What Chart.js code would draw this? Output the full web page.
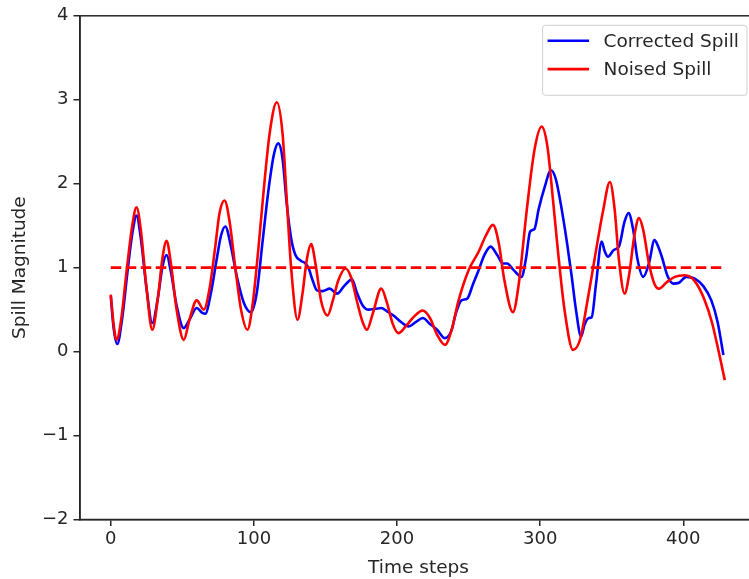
<!DOCTYPE html>
<html lang="en">
<head>
  <meta charset="UTF-8">
  <title>Spill Magnitude</title>
  <script src="https://cdn.jsdelivr.net/npm/chart.js"></script>
  <style>
    body {
      margin: 0;
      padding: 0;
      background: #fff;
      overflow: hidden;
    }
    #chart {
      display: block;
    }
  </style>
</head>
<body>
<canvas id="chart" width="770" height="579"></canvas>

<script>
  // values
  const noisedSteps = [0, 2, 4, 7, 11, 15, 18, 21, 25, 29, 33, 36, 39, 42, 46, 51, 55, 60, 65, 69, 73, 76, 79.5, 83, 87, 91, 95.5,
    99, 103, 107, 111, 116, 120, 123, 126, 130.5, 134, 137, 140, 143, 147, 151.5, 155, 159, 164, 168, 172, 176, 179, 183, 189,
    193, 197, 201, 206, 212, 218, 223, 228, 233.5, 238, 243, 250, 257, 262, 267, 271, 275, 281, 285, 290.6, 296, 301, 305, 309,
    312.6, 317, 323, 328, 333, 338, 344, 348.7, 352, 355, 359, 362, 366, 369, 372, 376, 380, 383, 388, 394, 401, 408, 415, 420,
    425, 429];
  const noisedValues = [0.68, 0.32, 0.14, 0.35, 0.95, 1.5, 1.72, 1.45, 0.75, 0.26, 0.65, 1.1, 1.32, 1.05, 0.5, 0.14, 0.38, 0.61,
    0.50, 0.75, 1.25, 1.65, 1.80, 1.55, 1.0, 0.5, 0.26, 0.55, 1.2, 1.95, 2.6, 2.97, 2.6, 1.8, 1.0, 0.38, 0.7, 1.1, 1.28, 1.05,
    0.6, 0.43, 0.6, 0.85, 0.99, 0.88, 0.6, 0.35, 0.26, 0.45, 0.75, 0.58, 0.33, 0.22, 0.3, 0.42, 0.49, 0.4, 0.2, 0.08, 0.25, 0.61,
    0.97, 1.19, 1.38, 1.51, 1.3, 0.85, 0.47, 0.8, 1.68, 2.4, 2.68, 2.45, 1.8, 1.17, 0.5, 0.02, 0.15, 0.6, 1.1, 1.68, 2.02, 1.7,
    1.1, 0.69, 0.9, 1.4, 1.59, 1.45, 1.05, 0.8, 0.75, 0.82, 0.89, 0.91, 0.84, 0.61, 0.35, -0.02, -0.34];

  const correctedSteps = [0, 2, 4.5, 8, 12, 15, 18, 21, 25, 29, 33, 36, 39, 42, 46, 51, 55, 60, 64, 66, 70, 74, 77, 80, 84, 88,
    93, 98, 102, 106, 110, 114, 117, 120, 123, 126, 129, 133, 136, 138.5, 141, 144, 148, 153, 158, 163, 168.5, 172, 176, 180,
    185, 189, 193, 197.5, 203, 208, 213, 218, 223, 228, 233.5, 238, 241, 245, 249, 253, 257, 261, 265.4, 270, 274, 277, 281,
    287, 290, 293, 296, 299, 303, 307.6, 311, 315, 318.8, 322, 325, 328.6, 331, 334, 336, 339, 343, 345, 347.4, 351.4, 355,
    359, 361.8, 365, 368, 372, 376, 379.9, 382, 385, 389, 393, 397, 402, 408, 414, 419.6, 424, 428];
  const correctedValues = [0.66, 0.28, 0.09, 0.4, 1.0, 1.4, 1.62, 1.35, 0.75, 0.34, 0.65, 1.0, 1.15, 0.95, 0.55, 0.28, 0.38,
    0.52, 0.46, 0.45, 0.7, 1.1, 1.38, 1.49, 1.25, 0.9, 0.58, 0.47, 0.7, 1.3, 1.9, 2.35, 2.48, 2.3, 1.75, 1.35, 1.15, 1.08, 1.05,
    0.98, 0.85, 0.73, 0.72, 0.75, 0.69, 0.78, 0.86, 0.7, 0.55, 0.5, 0.51, 0.52, 0.48, 0.43, 0.35, 0.3, 0.35, 0.4, 0.33, 0.26,
    0.16, 0.25, 0.45, 0.61, 0.63, 0.8, 0.97, 1.15, 1.25, 1.15, 1.05, 1.05, 0.98, 0.89, 1.1, 1.43, 1.46, 1.7, 1.95, 2.16, 2.05,
    1.7, 1.29, 0.9, 0.5, 0.18, 0.32, 0.4, 0.41, 0.8, 1.31, 1.2, 1.13, 1.21, 1.25, 1.55, 1.65, 1.45, 1.1, 0.89, 1.05, 1.33,
    1.27, 1.13, 0.9, 0.81, 0.82, 0.89, 0.87, 0.78, 0.61, 0.35, -0.04];

  const thresholdSteps = [0, 429];
  const thresholdValues = [1, 1];

  const xTicks = [0, 100, 200, 300, 400];
  const yTicks = [-2, -1, 0, 1, 2, 3, 4];

  const toPoints = (xs, ys) => xs.map((x, i) => ({ x: x, y: ys[i] }));

  const fontFamily = '"DejaVu Sans", sans-serif';
  const inkColor = '#262626';

  // matplotlib style frame: spines on all four sides
  const framePlugin = {
    id: 'frame',
    afterDraw(chart) {
      const { ctx, chartArea } = chart;
      ctx.save();
      ctx.strokeStyle = inkColor;
      ctx.lineWidth = 1.5;
      ctx.strokeRect(chartArea.left, chartArea.top, chartArea.right - chartArea.left, chartArea.bottom - chartArea.top);
      ctx.restore();
    }
  };

  // legend inside the axes, upper right
  const insideLegend = {
    id: 'insideLegend',
    afterDraw(chart) {
      const { ctx, chartArea } = chart;
      const items = chart.data.datasets.filter(d => !d.noLegend);
      ctx.save();
      ctx.font = '18.5px ' + fontFamily;
      const maxW = Math.max(...items.map(d => ctx.measureText(d.label).width));
      const right = chartArea.right - 10;
      const top = chartArea.top + 9.5;
      const left = right - (61 + maxW + 8);
      const h = 70;

      ctx.beginPath();
      ctx.roundRect(left, top, right - left, h, 3);
      ctx.fillStyle = 'rgba(255,255,255,0.8)';
      ctx.fill();
      ctx.strokeStyle = '#d0d0d0';
      ctx.lineWidth = 1;
      ctx.stroke();

      items.forEach((d, i) => {
        const cy = top + 15.5 + i * 28.3;
        ctx.beginPath();
        ctx.moveTo(left + 5, cy);
        ctx.lineTo(left + 46.5, cy);
        ctx.strokeStyle = d.borderColor;
        ctx.lineWidth = 2.6;
        ctx.stroke();
        ctx.fillStyle = inkColor;
        ctx.textBaseline = 'middle';
        ctx.fillText(d.label, left + 61, cy + 1);
      });
      ctx.restore();
    }
  };

  const ctx = document.getElementById('chart').getContext('2d');
  const chart = new Chart(ctx, {
    type: 'line',
    data: {
      datasets: [
        {
          label: 'Corrected Spill',
          data: toPoints(correctedSteps, correctedValues),
          borderColor: '#0000ff',
          borderWidth: 2.6,
          pointRadius: 0,
          cubicInterpolationMode: 'monotone',
          fill: false,
          order: 3,
        },
        {
          label: 'Noised Spill',
          data: toPoints(noisedSteps, noisedValues),
          borderColor: '#ff0000',
          borderWidth: 2.6,
          pointRadius: 0,
          cubicInterpolationMode: 'monotone',
          fill: false,
          order: 2,
        },
        {
          label: 'threshold',
          noLegend: true,
          data: toPoints(thresholdSteps, thresholdValues),
          borderColor: '#ff0000',
          borderWidth: 2.6,
          borderDash: [10.5, 4.5],
          pointRadius: 0,
          fill: false,
          order: 1,
        },
      ],
    },
    options: {
      responsive: false,
      animation: false,
      events: [],
      layout: {
        padding: { top: 15.5, right: 13, left: 0, bottom: 0 },
      },
      plugins: {
        legend: { display: false },
        tooltip: { enabled: false },
      },
      scales: {
        x: {
          type: 'linear',
          min: -21.5,
          max: 451.5,
          afterBuildTicks: axis => { axis.ticks = xTicks.map(v => ({ value: v })); },
          afterFit: axis => { axis.height = 59.5; },
          grid: { display: true, drawOnChartArea: false, drawTicks: true, tickLength: 6.5, color: inkColor, lineWidth: 1.5 },
          border: { display: true, color: inkColor, width: 1.5 },
          ticks: { color: inkColor, font: { family: fontFamily, size: 18 }, padding: 3, maxRotation: 0 },
          title: { display: true, text: 'Time steps', color: inkColor, font: { family: fontFamily, size: 18.5 }, padding: 0 },
        },
        y: {
          type: 'linear',
          min: -2,
          max: 4,
          afterBuildTicks: axis => { axis.ticks = yTicks.map(v => ({ value: v })); },
          afterFit: axis => { axis.width = 80; },
          grid: { display: true, drawOnChartArea: false, drawTicks: true, tickLength: 6.5, color: inkColor, lineWidth: 1.5 },
          border: { display: true, color: inkColor, width: 1.5 },
          ticks: {
            color: inkColor,
            font: { family: fontFamily, size: 18 },
            padding: 5,
            callback: v => (v < 0 ? '\u2212' + Math.abs(v) : String(v)),
          },
          title: {
            display: true,
            text: 'Spill Magnitude',
            color: inkColor,
            font: { family: fontFamily, size: 18.5 },
            padding: { top: 9, bottom: 0 },
          },
        },
      },
    },
    plugins: [framePlugin, insideLegend],
  });
</script>
</body>
</html>
